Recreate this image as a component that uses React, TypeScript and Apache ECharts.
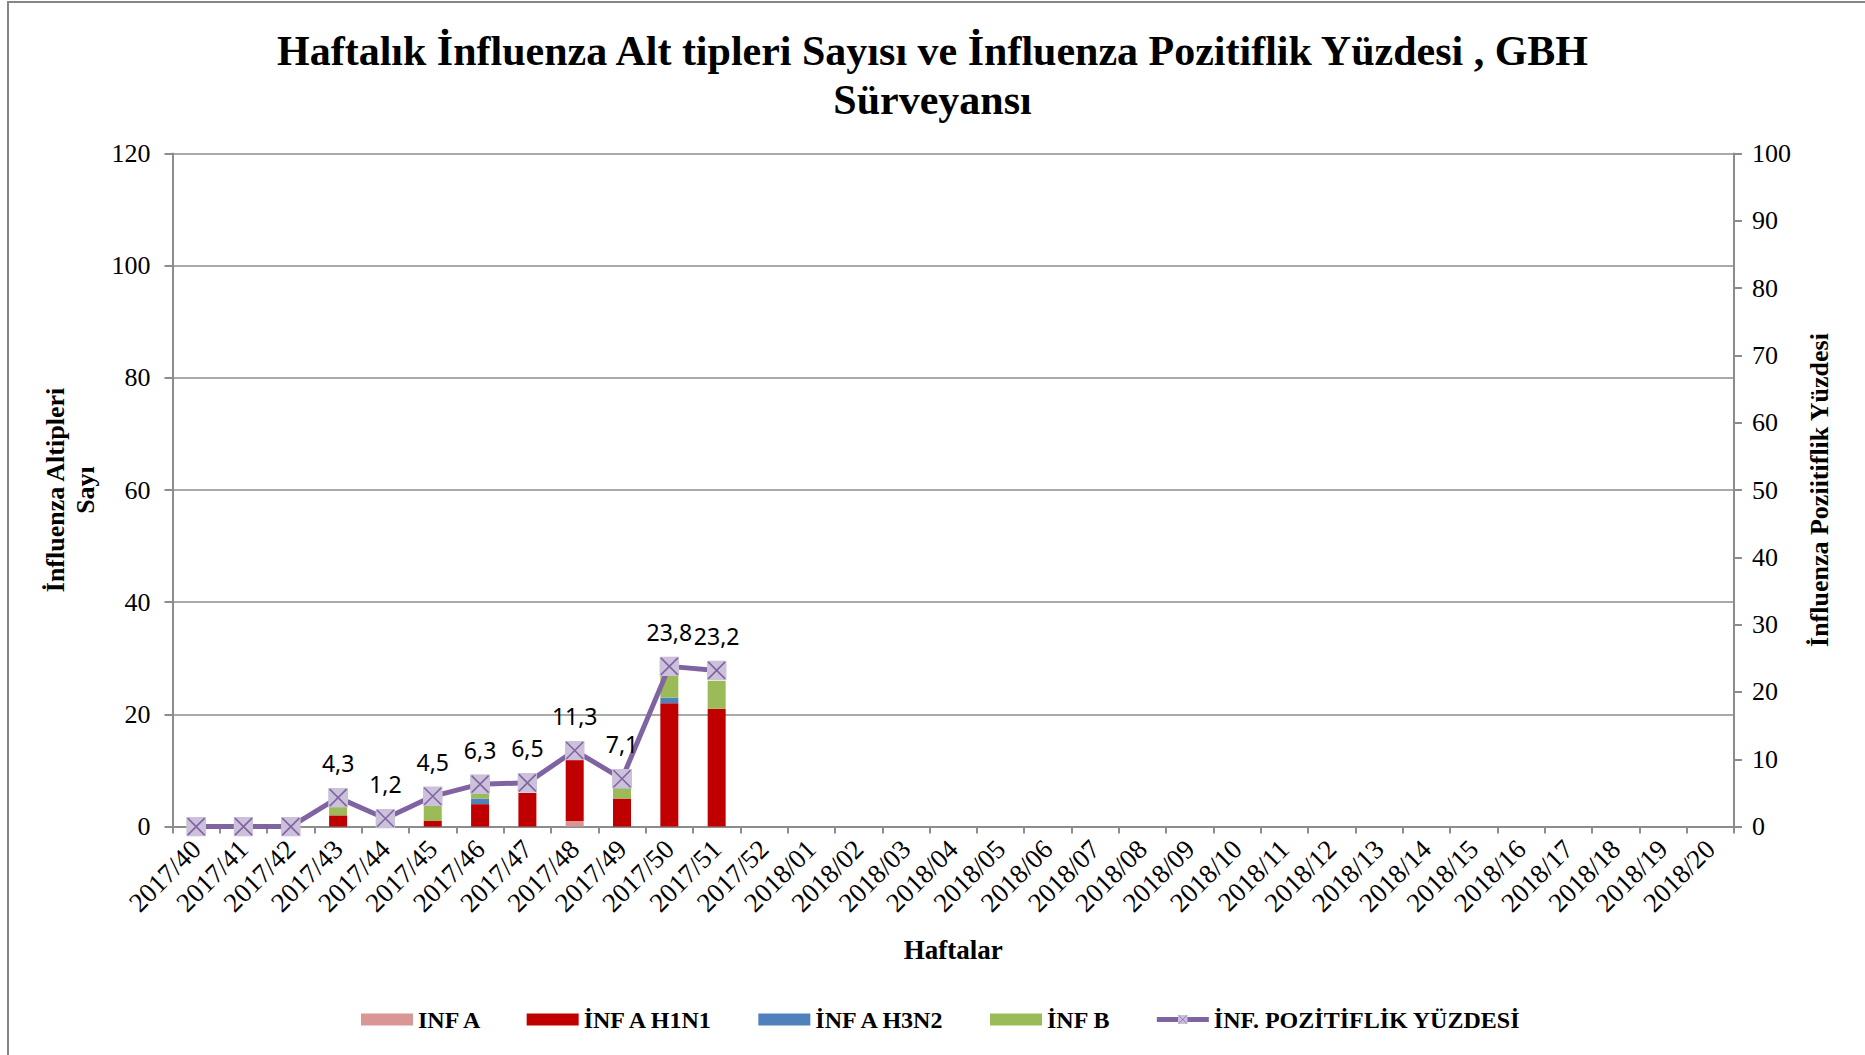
import React, { useEffect, useRef } from "react";
import * as echarts from "echarts";

const categories = [
  "2017/40", "2017/41", "2017/42", "2017/43", "2017/44", "2017/45", "2017/46", "2017/47",
  "2017/48", "2017/49", "2017/50", "2017/51", "2017/52",
  "2018/01", "2018/02", "2018/03", "2018/04", "2018/05", "2018/06", "2018/07", "2018/08",
  "2018/09", "2018/10", "2018/11", "2018/12", "2018/13", "2018/14", "2018/15", "2018/16",
  "2018/17", "2018/18", "2018/19", "2018/20",
];

const infA = [0, 0, 0, 0, 0, 0, 0, 0, 1, 0, 0, 0, 0, 0, 0, 0, 0, 0, 0, 0, 0, 0, 0, 0, 0, 0, 0, 0, 0, 0, 0, 0, 0];
const infAH1N1 = [0, 0, 0, 2, 0, 1, 4, 6, 11, 5, 22, 21, 0, 0, 0, 0, 0, 0, 0, 0, 0, 0, 0, 0, 0, 0, 0, 0, 0, 0, 0, 0, 0];
const infAH3N2 = [0, 0, 0, 0, 0, 0, 1, 0, 0, 0, 1, 0, 0, 0, 0, 0, 0, 0, 0, 0, 0, 0, 0, 0, 0, 0, 0, 0, 0, 0, 0, 0, 0];
const infB = [0, 0, 0, 2, 0, 3, 1, 0, 0, 2, 4, 5, 0, 0, 0, 0, 0, 0, 0, 0, 0, 0, 0, 0, 0, 0, 0, 0, 0, 0, 0, 0, 0];
const positivity: (number | null)[] = [
  0, 0, 0, 4.3, 1.2, 4.5, 6.3, 6.5, 11.3, 7.1, 23.8, 23.2,
  null, null, null, null, null, null, null, null, null, null, null, null, null, null, null,
  null, null, null, null, null, null,
];

const leftTicks = { min: 0, max: 120, interval: 20 };
const rightTicks = { min: 0, max: 100, interval: 10 };

const SERIF = "'Liberation Serif', 'Times New Roman', serif";
const AXIS_GRAY = "#8c8c8c";

const markerSvg =
  '<svg xmlns="http://www.w3.org/2000/svg" width="20" height="20" viewBox="0 0 20 20">' +
  '<rect x="0" y="0" width="20" height="20" fill="#ccc1da"/>' +
  '<path d="M1.5,1.5L18.5,18.5M18.5,1.5L1.5,18.5" stroke="#8064a2" stroke-width="1.6" fill="none"/>' +
  "</svg>";
const markerSymbol = "image://data:image/svg+xml;charset=utf-8," + encodeURIComponent(markerSvg);

export default function App() {
  const ref = useRef<HTMLDivElement>(null);

  useEffect(() => {
    if (!ref.current) return;
    const chart = echarts.init(ref.current, undefined, { renderer: "svg" });

    const barBase = (name: string, data: number[], color: string) => ({
      name,
      type: "bar",
      stack: "flu",
      barWidth: 18,
      data,
      itemStyle: { color },
      yAxisIndex: 0,
    });

    chart.setOption({
      animation: false,
      backgroundColor: "#ffffff",
      title: {
        text: "Haftalık İnfluenza Alt tipleri Sayısı ve İnfluenza Pozitiflik Yüzdesi , GBH\nSürveyansı",
        left: "center",
        top: 26,
        padding: 0,
        textStyle: {
          fontFamily: SERIF,
          fontWeight: "bold",
          fontSize: 42,
          lineHeight: 49,
          color: "#000",
        },
      },
      graphic: [
        {
          type: "rect",
          shape: { x: 8, y: 2, width: 1900, height: 1100 },
          style: { fill: "none", stroke: "#868686", lineWidth: 2 },
          silent: true,
        },
      ],
      grid: { left: 172.5, right: 131, top: 153.4, bottom: 228.4, containLabel: false },
      legend: {
        left: 356,
        top: 1002,
        itemWidth: 52,
        itemHeight: 12,
        itemGap: 44,
        textStyle: { fontFamily: SERIF, fontWeight: "bold", fontSize: 24, color: "#000", lineHeight: 25 },
        data: [
          { name: "INF A", icon: "rect" },
          { name: "İNF A H1N1", icon: "rect" },
          { name: "İNF A H3N2", icon: "rect" },
          { name: "İNF B", icon: "rect" },
          { name: "İNF. POZİTİFLİK YÜZDESİ", lineStyle: { width: 5, color: "#8064a2" } },
        ],
      },
      xAxis: {
        type: "category",
        data: categories,
        boundaryGap: true,
        axisLine: { lineStyle: { color: AXIS_GRAY, width: 2 } },
        axisTick: { show: true, interval: 0, length: 7, lineStyle: { color: AXIS_GRAY, width: 2 } },
        axisLabel: {
          interval: 0,
          rotate: 45,
          fontFamily: SERIF,
          fontSize: 27,
          color: "#000",
          margin: 18,
        },
        name: "Haftalar",
        nameLocation: "middle",
        nameGap: 110,
        nameTextStyle: { fontFamily: SERIF, fontWeight: "bold", fontSize: 27, color: "#000" },
      },
      yAxis: [
        {
          type: "value",
          position: "left",
          min: leftTicks.min,
          max: leftTicks.max,
          interval: leftTicks.interval,
          axisLine: { show: true, lineStyle: { color: AXIS_GRAY, width: 2 } },
          axisTick: { show: true, length: 8, lineStyle: { color: AXIS_GRAY, width: 2 } },
          axisLabel: { fontFamily: SERIF, fontSize: 26, color: "#000", margin: 22 },
          splitLine: { show: true, lineStyle: { color: AXIS_GRAY, width: 1.5 } },
          name: "İnfluenza Altipleri\nSayı",
          nameLocation: "middle",
          nameRotate: 90,
          nameGap: 71,
          nameTextStyle: { fontFamily: SERIF, fontWeight: "bold", fontSize: 26, color: "#000", lineHeight: 30 },
        },
        {
          type: "value",
          position: "right",
          min: rightTicks.min,
          max: rightTicks.max,
          interval: rightTicks.interval,
          axisLine: { show: true, lineStyle: { color: AXIS_GRAY, width: 2 } },
          axisTick: { show: true, length: 8, lineStyle: { color: AXIS_GRAY, width: 2 } },
          axisLabel: { fontFamily: SERIF, fontSize: 26, color: "#000", margin: 18 },
          splitLine: { show: false },
          name: "İnfluenza Poziitiflik Yüzdesi",
          nameLocation: "middle",
          nameRotate: 90,
          nameGap: 72,
          nameTextStyle: { fontFamily: SERIF, fontWeight: "bold", fontSize: 26, color: "#000" },
        },
      ],
      series: [
        barBase("INF A", infA, "#d99694"),
        barBase("İNF A H1N1", infAH1N1, "#c00000"),
        barBase("İNF A H3N2", infAH3N2, "#4f81bd"),
        barBase("İNF B", infB, "#9bbb59"),
        {
          name: "İNF. POZİTİFLİK YÜZDESİ",
          type: "line",
          yAxisIndex: 1,
          data: positivity,
          connectNulls: false,
          symbol: markerSymbol,
          symbolSize: 20,
          showAllSymbol: true,
          lineStyle: { color: "#8064a2", width: 5 },
          itemStyle: { color: "#8064a2" },
          z: 5,
          label: {
            show: true,
            position: "top",
            distance: 13,
            fontFamily: "'Noto Sans', sans-serif",
            fontSize: 23,
            color: "#000",
            formatter: (p: any) =>
              p.value === 0 || p.value == null ? "" : String(p.value).replace(".", ","),
          },
        },
      ],
    });

    return () => chart.dispose();
  }, []);

  return (
    <div
      ref={ref}
      style={{ position: "fixed", left: 0, top: 0, width: 1865, height: 1055, background: "#fff" }}
    />
  );
}
